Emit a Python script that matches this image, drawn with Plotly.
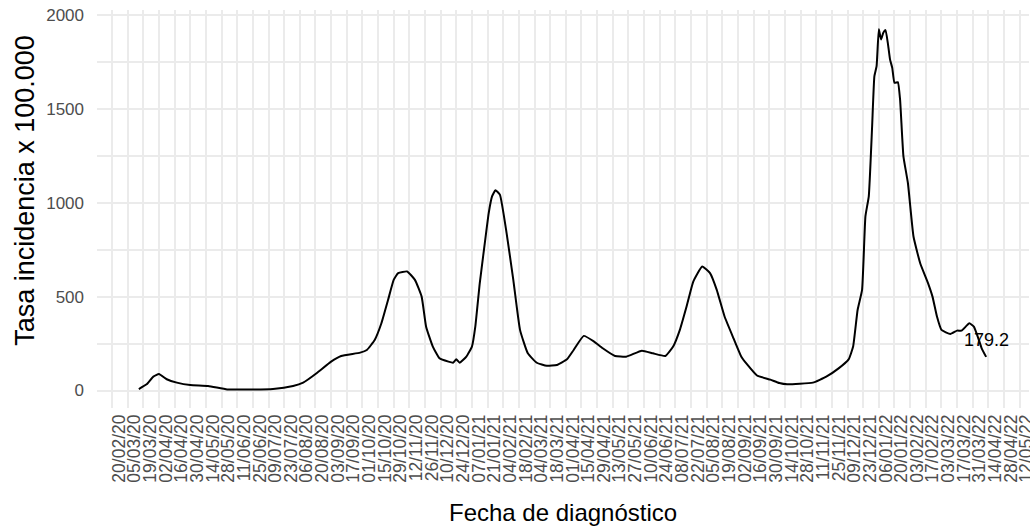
import pandas as pd
import plotly.graph_objects as go

# Series: daily incidence rate per 100.000
dates = [
    "2020-03-15", "2020-03-22", "2020-03-28", "2020-04-02", "2020-04-09", "2020-04-18",
    "2020-04-30", "2020-05-16", "2020-06-02", "2020-06-19", "2020-07-13", "2020-07-31",
    "2020-08-09", "2020-08-21", "2020-09-03", "2020-09-12", "2020-09-29", "2020-10-05",
    "2020-10-12", "2020-10-18", "2020-10-24", "2020-10-29", "2020-11-02", "2020-11-10",
    "2020-11-17", "2020-11-23", "2020-11-27", "2020-12-03", "2020-12-09", "2020-12-17",
    "2020-12-21", "2020-12-24", "2020-12-27", "2021-01-02", "2021-01-07", "2021-01-10",
    "2021-01-14", "2021-01-17", "2021-01-22", "2021-01-25", "2021-01-28", "2021-02-01",
    "2021-02-07", "2021-02-13", "2021-02-19", "2021-02-26", "2021-03-06", "2021-03-15",
    "2021-03-24", "2021-04-02", "2021-04-08", "2021-04-17", "2021-04-26", "2021-05-04",
    "2021-05-15", "2021-05-25", "2021-06-08", "2021-06-18", "2021-06-29", "2021-07-06",
    "2021-07-12", "2021-07-18", "2021-07-24", "2021-08-01", "2021-08-08", "2021-08-14",
    "2021-08-21", "2021-08-29", "2021-09-05", "2021-09-10", "2021-09-19", "2021-10-01",
    "2021-10-09", "2021-10-16", "2021-11-08", "2021-11-20", "2021-12-01", "2021-12-10",
    "2021-12-14", "2021-12-18", "2021-12-22", "2021-12-25", "2021-12-28", "2021-12-31",
    "2022-01-02", "2022-01-04", "2022-01-06", "2022-01-08", "2022-01-10", "2022-01-12",
    "2022-01-14", "2022-01-16", "2022-01-18", "2022-01-20", "2022-01-23", "2022-01-25",
    "2022-01-28", "2022-02-01", "2022-02-06", "2022-02-12", "2022-02-19", "2022-02-23",
    "2022-02-27", "2022-03-03", "2022-03-11", "2022-03-17", "2022-03-21", "2022-03-28",
    "2022-04-01", "2022-04-05", "2022-04-08", "2022-04-12",
]
tasa = [
    8, 33, 74, 88, 60, 42,
    29, 24, 6, 5, 8, 24,
    42, 92, 154, 184, 202, 216,
    269, 358, 483, 589, 625, 634,
    589, 500, 340, 234, 172, 154,
    148, 166, 148, 180, 234, 340,
    572, 714, 945, 1034, 1066, 1043,
    838, 589, 323, 198, 148, 132,
    136, 166, 216, 291, 262, 225,
    184, 180, 212, 198, 184, 234,
    323, 447, 580, 660, 625, 536,
    394, 278, 180, 140, 80, 58,
    40, 33, 42, 74, 118, 166,
    234, 429, 536, 927, 1034, 1407,
    1673, 1727, 1923, 1869, 1905, 1919,
    1852, 1763, 1718, 1638, 1642, 1549,
    1247, 1105, 820, 678, 572, 500,
    394, 323, 301, 319, 319, 358,
    340, 278, 225, 179.2,
]

tick_labels = [
    "20/02/20", "05/03/20", "19/03/20", "02/04/20", "16/04/20", "30/04/20", "14/05/20",
    "28/05/20", "11/06/20", "25/06/20", "09/07/20", "23/07/20", "06/08/20", "20/08/20",
    "03/09/20", "17/09/20", "01/10/20", "15/10/20", "29/10/20", "12/11/20", "26/11/20",
    "10/12/20", "24/12/20", "07/01/21", "21/01/21", "04/02/21", "18/02/21", "04/03/21",
    "18/03/21", "01/04/21", "15/04/21", "29/04/21", "13/05/21", "27/05/21", "10/06/21",
    "24/06/21", "08/07/21", "22/07/21", "05/08/21", "19/08/21", "02/09/21", "16/09/21",
    "30/09/21", "14/10/21", "28/10/21", "11/11/21", "25/11/21", "09/12/21", "23/12/21",
    "06/01/22", "20/01/22", "03/02/22", "17/02/22", "03/03/22", "17/03/22", "31/03/22",
    "14/04/22", "28/04/22", "12/05/22",
]
y_ticks = [0, 500, 1000, 1500, 2000]

x_title = "Fecha de diagnóstico"
y_title = "Tasa incidencia x 100.000"

tick_dates = pd.to_datetime(tick_labels, format="%d/%m/%y")
x = pd.to_datetime(dates)

FONT = "Arial, Liberation Sans, sans-serif"
GRID = "#EBEBEB"

fig = go.Figure()
fig.add_trace(go.Scatter(
    x=x, y=tasa, mode="lines",
    line=dict(color="black", width=2, shape="spline", smoothing=0.4),
    hoverinfo="x+y", showlegend=False,
))

fig.add_annotation(
    x=x[-1], y=tasa[-1], text=f"{tasa[-1]:.1f}", showarrow=False,
    yshift=17, font=dict(family=FONT, size=18, color="black"),
)
fig.add_annotation(
    xref="paper", yref="paper", x=-0.0773, y=0.548, text=y_title,
    textangle=-90, showarrow=False, xanchor="center", yanchor="middle",
    font=dict(family=FONT, size=27, color="black"),
)
fig.add_annotation(
    xref="paper", yref="paper", x=0.5, y=-0.262, text=x_title,
    showarrow=False, xanchor="center", yanchor="middle",
    font=dict(family=FONT, size=24, color="black"),
)

fig.update_layout(
    width=1030, height=528,
    margin=dict(l=97, r=1, t=10, b=120, autoexpand=False),
    paper_bgcolor="white", plot_bgcolor="white",
    font=dict(family=FONT),
    xaxis=dict(
        type="date",
        range=["2020-02-06 14:00", "2022-05-20 08:00"],
        tickmode="array", tickvals=tick_dates, ticktext=tick_labels,
        tickangle=-90, ticklabelshift=7, ticklabelstandoff=2,
        ticklabeloverflow="allow",
        tickfont=dict(family=FONT, size=17.5, color="#4D4D4D"),
        showgrid=True, gridcolor=GRID, gridwidth=1.8,
        zeroline=False, showline=False, ticks="",
    ),
    yaxis=dict(
        range=[-93, 2026],
        tickmode="array", tickvals=y_ticks,
        tickfont=dict(family=FONT, size=17, color="#4D4D4D"),
        showgrid=True, gridcolor=GRID, gridwidth=1.8,
        minor=dict(dtick=250, tick0=0, showgrid=True, gridcolor=GRID, gridwidth=1.8),
        zeroline=False, showline=False, ticks="", ticklabelstandoff=12,
    ),
)

fig.write_html(
    "out.html",
    config={"displayModeBar": False},
    post_script="document.body.style.margin='0';document.body.style.overflow='hidden';",
)
